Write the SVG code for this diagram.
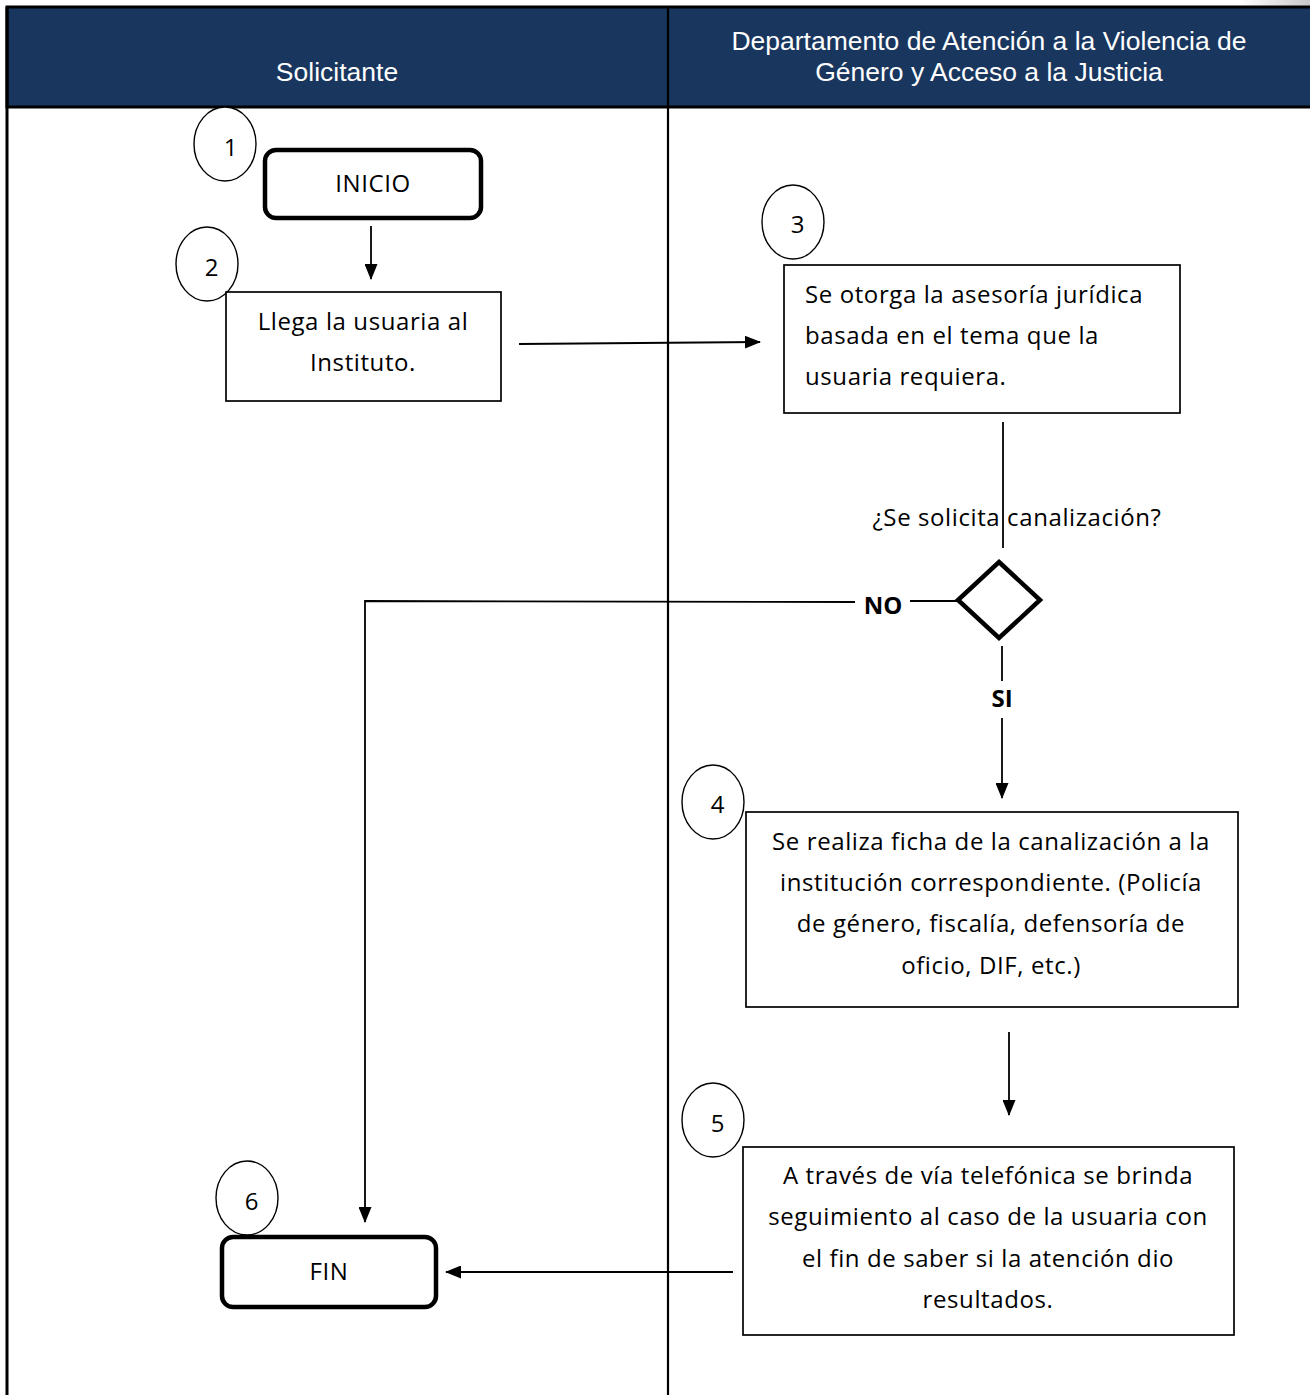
<svg xmlns="http://www.w3.org/2000/svg" width="1310" height="1395" viewBox="0 0 1310 1395">
<style>
.hdr{font-family:"Liberation Sans",Arial,sans-serif;font-size:26.5px;fill:#ffffff;text-anchor:middle}
.t{font-family:"Open Sans","Noto Sans",sans-serif;font-size:24px;letter-spacing:0.6px;fill:#000}
.c{text-anchor:middle}
.b{font-weight:bold;letter-spacing:0}
.box{fill:#fff;stroke:#000;stroke-width:1.7}
.term{fill:#fff;stroke:#000;stroke-width:4.5}
.num{fill:#fff;stroke:#000;stroke-width:1.4}
.ln{fill:none;stroke:#000;stroke-width:1.8}
</style>
<defs>
<marker id="ah" markerWidth="16" markerHeight="13" refX="15" refY="6.5" orient="auto" markerUnits="userSpaceOnUse">
<path d="M0,0 L16,6.5 L0,13 Z" fill="#000"/>
</marker>
<linearGradient id="sh" x1="0" y1="0" x2="1" y2="0">
<stop offset="0" stop-color="#ffffff"/>
<stop offset="1" stop-color="#c8c8c8"/>
</linearGradient>
</defs>
<rect width="1310" height="1395" fill="#fff"/>
<rect x="1240" y="0" width="70" height="8" fill="url(#sh)"/>
<g id="lanes">
<rect x="7" y="7" width="1305" height="100" fill="#19365e" stroke="#000" stroke-width="3"/>
<line x1="7" y1="7" x2="7" y2="1395" stroke="#000" stroke-width="3"/>
<line x1="668" y1="7" x2="668" y2="1395" stroke="#000" stroke-width="2.2"/>
<text class="hdr" x="337" y="81">Solicitante</text>
<text class="hdr" x="989" y="50">Departamento de Atención a la Violencia de</text>
<text class="hdr" x="989" y="81">Género y Acceso a la Justicia</text>
</g>
<g id="connectors">
<line class="ln" x1="371" y1="226" x2="371" y2="279" marker-end="url(#ah)"/>
<line class="ln" x1="519" y1="344" x2="760" y2="342" marker-end="url(#ah)"/>
<line class="ln" x1="1003" y1="422" x2="1003" y2="548"/>
<line class="ln" x1="958" y1="601" x2="910" y2="601"/>
<polyline class="ln" points="855,602 365,601 365,1222" marker-end="url(#ah)"/>
<line class="ln" x1="1002" y1="646" x2="1002" y2="681"/>
<line class="ln" x1="1002" y1="718" x2="1002" y2="798" marker-end="url(#ah)"/>
<line class="ln" x1="1009" y1="1032" x2="1009" y2="1115" marker-end="url(#ah)"/>
<line class="ln" x1="733" y1="1272" x2="446" y2="1272" marker-end="url(#ah)"/>
<text class="t b" x="883" y="614" text-anchor="middle">NO</text>
<text class="t b" x="1002" y="707" text-anchor="middle">SI</text>
<text class="t" x="1017" y="526" text-anchor="middle">¿Se solicita canalización?</text>
</g>
<g id="n1">
<ellipse class="num" cx="225" cy="144" rx="31" ry="37"/>
<text class="t c" x="231" y="156">1</text>
<rect class="term" x="265" y="150" width="216" height="68" rx="11"/>
<text class="t c" x="373" y="192">INICIO</text>
</g>
<g id="n2">
<ellipse class="num" cx="207" cy="264" rx="31" ry="37"/>
<text class="t c" x="212" y="276">2</text>
<rect class="box" x="226" y="292" width="275" height="109"/>
<text class="t c" x="363" y="330">Llega la usuaria al</text>
<text class="t c" x="363" y="371">Instituto.</text>
</g>
<g id="n3">
<ellipse class="num" cx="793" cy="222" rx="31" ry="37"/>
<text class="t c" x="798" y="233">3</text>
<rect class="box" x="784" y="265" width="396" height="148"/>
<text class="t" x="805" y="303">Se otorga la asesoría jurídica</text>
<text class="t" x="805" y="344">basada en el tema que la</text>
<text class="t" x="805" y="385">usuaria requiera.</text>
</g>
<g id="decision">
<polygon points="999,562 1040,600 999,638 958,600" fill="#fff" stroke="#000" stroke-width="4.5"/>
</g>
<g id="n4">
<ellipse class="num" cx="713" cy="802" rx="31" ry="37"/>
<text class="t c" x="718" y="813">4</text>
<rect class="box" x="746" y="812" width="492" height="195"/>
<text class="t c" x="991" y="850">Se realiza ficha de la canalización a la</text>
<text class="t c" x="991" y="891">institución correspondiente. (Policía</text>
<text class="t c" x="991" y="932">de género, fiscalía, defensoría de</text>
<text class="t c" x="991" y="974">oficio, DIF, etc.)</text>
</g>
<g id="n5">
<ellipse class="num" cx="713" cy="1120" rx="31" ry="37"/>
<text class="t c" x="718" y="1132">5</text>
<rect class="box" x="743" y="1147" width="491" height="188"/>
<text class="t c" x="988" y="1184">A través de vía telefónica se brinda</text>
<text class="t c" x="988" y="1225">seguimiento al caso de la usuaria con</text>
<text class="t c" x="988" y="1267">el fin de saber si la atención dio</text>
<text class="t c" x="988" y="1308">resultados.</text>
</g>
<g id="n6">
<ellipse class="num" cx="247" cy="1198" rx="31" ry="37"/>
<text class="t c" x="252" y="1210">6</text>
<rect class="term" x="222" y="1237" width="214" height="70" rx="11"/>
<text class="t c" x="329" y="1280">FIN</text>
</g>
</svg>
